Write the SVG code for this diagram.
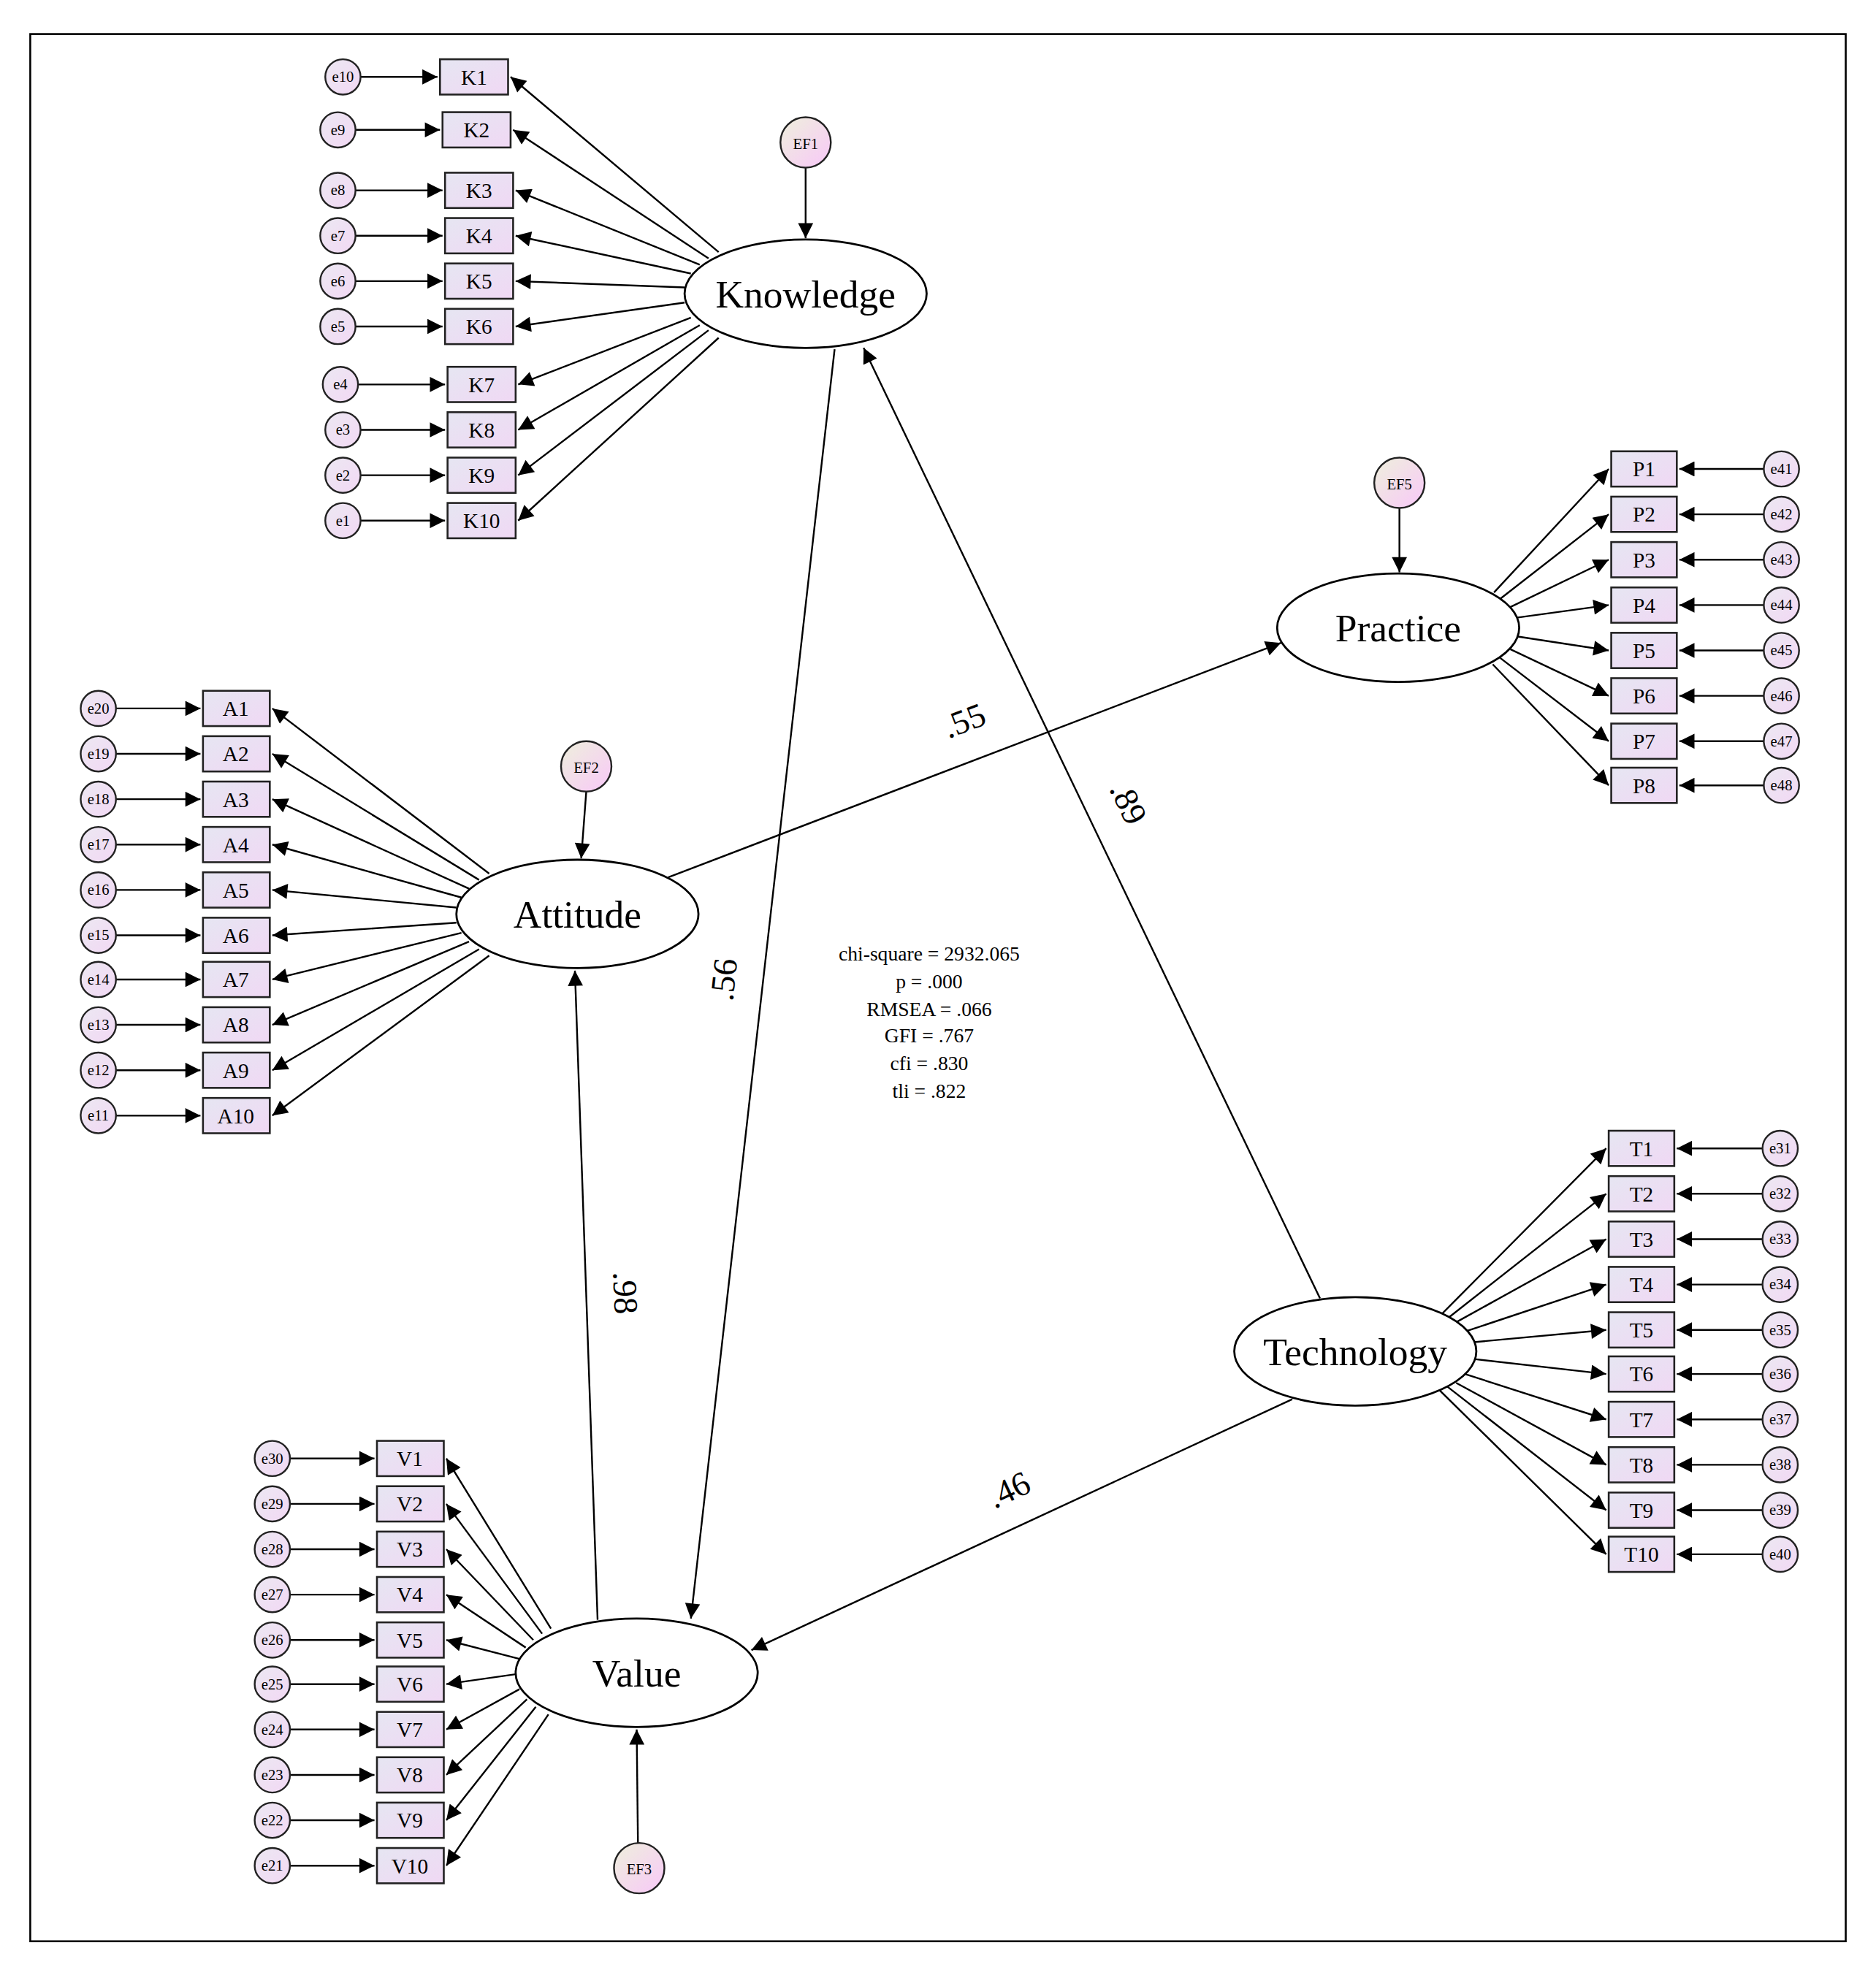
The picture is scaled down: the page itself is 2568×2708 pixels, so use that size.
<svg xmlns="http://www.w3.org/2000/svg" width="2568" height="2708" viewBox="0 0 2568 2708">
<defs>
<linearGradient id="gb" x1="0" y1="0" x2="1" y2="1"><stop offset="0" stop-color="#e6e6f2"/><stop offset="1" stop-color="#f0d8f4"/></linearGradient>
<linearGradient id="ge" x1="0" y1="0" x2="1" y2="1"><stop offset="0" stop-color="#ece8f2"/><stop offset="1" stop-color="#f2d8f4"/></linearGradient>
<linearGradient id="gf" x1="0" y1="0" x2="1" y2="1"><stop offset="0" stop-color="#eef0dc"/><stop offset="1" stop-color="#f8c8f8"/></linearGradient>
<marker id="ar" viewBox="0 0 10 10" refX="10" refY="5" markerWidth="10" markerHeight="10" markerUnits="userSpaceOnUse" orient="auto"><path d="M0,0 L10,5 L0,10 z" fill="#000"/></marker>
<marker id="al" viewBox="0 0 10 10" refX="10" refY="5" markerWidth="16" markerHeight="12" markerUnits="userSpaceOnUse" orient="auto"><path d="M0,0 L10,5 L0,10 z" fill="#000"/></marker>
</defs>
<style>
.l{stroke:#000;stroke-width:1.4;fill:none;marker-end:url(#al)}
.bx{fill:url(#gb);stroke:#222;stroke-width:1.5}
.ec{fill:url(#ge);stroke:#222;stroke-width:1.4}
.ef{fill:url(#gf);stroke:#222;stroke-width:1.4}
.ov{fill:#fff;stroke:#000;stroke-width:1.6}
text{font-family:"Liberation Serif","Times New Roman",serif;fill:#000;text-anchor:middle}
.bt{font-size:17px}
.et{font-size:12px}
.nt{font-size:31px}
.pl{font-size:27px}
.ft{font-size:16px}
</style>
<rect x="0" y="0" width="2568" height="2708" fill="#fff"/>
<g transform="scale(1.7258)">
<rect x="24" y="27" width="1440" height="1513" fill="none" stroke="#000" stroke-width="1.5"/>

<g id="connectors">
<!-- Knowledge indicators -->
<line class="l" x1="570" y1="200" x2="405" y2="61"/>
<line class="l" x1="562" y1="205" x2="407" y2="103"/>
<line class="l" x1="555" y1="210" x2="409" y2="151"/>
<line class="l" x1="548" y1="217" x2="409" y2="187"/>
<line class="l" x1="543" y1="228" x2="409" y2="223"/>
<line class="l" x1="543" y1="240" x2="409" y2="259"/>
<line class="l" x1="548" y1="252" x2="411" y2="305"/>
<line class="l" x1="555" y1="258" x2="411" y2="341"/>
<line class="l" x1="562" y1="262" x2="411" y2="377"/>
<line class="l" x1="570" y1="268" x2="411" y2="413"/>
<line class="l" x1="286" y1="61" x2="347" y2="61"/>
<line class="l" x1="282" y1="103" x2="349" y2="103"/>
<line class="l" x1="282" y1="151" x2="351" y2="151"/>
<line class="l" x1="282" y1="187" x2="351" y2="187"/>
<line class="l" x1="282" y1="223" x2="351" y2="223"/>
<line class="l" x1="282" y1="259" x2="351" y2="259"/>
<line class="l" x1="284" y1="305" x2="353" y2="305"/>
<line class="l" x1="286" y1="341" x2="353" y2="341"/>
<line class="l" x1="286" y1="377" x2="353" y2="377"/>
<line class="l" x1="286" y1="413" x2="353" y2="413"/>
<line class="l" x1="639" y1="133" x2="639" y2="189"/>
<!-- Practice indicators -->
<line class="l" x1="1185" y1="470" x2="1276" y2="372"/>
<line class="l" x1="1190" y1="475" x2="1276" y2="408"/>
<line class="l" x1="1197" y1="482" x2="1276" y2="444"/>
<line class="l" x1="1203" y1="490" x2="1276" y2="480"/>
<line class="l" x1="1204" y1="505" x2="1276" y2="516"/>
<line class="l" x1="1198" y1="515" x2="1276" y2="552"/>
<line class="l" x1="1190" y1="522" x2="1276" y2="588"/>
<line class="l" x1="1184" y1="527" x2="1276" y2="623"/>
<line class="l" x1="1399" y1="372" x2="1332" y2="372"/>
<line class="l" x1="1399" y1="408" x2="1332" y2="408"/>
<line class="l" x1="1399" y1="444" x2="1332" y2="444"/>
<line class="l" x1="1399" y1="480" x2="1332" y2="480"/>
<line class="l" x1="1399" y1="516" x2="1332" y2="516"/>
<line class="l" x1="1399" y1="552" x2="1332" y2="552"/>
<line class="l" x1="1399" y1="588" x2="1332" y2="588"/>
<line class="l" x1="1399" y1="623" x2="1332" y2="623"/>
<line class="l" x1="1110" y1="403" x2="1110" y2="454"/>
<!-- Attitude indicators -->
<line class="l" x1="388" y1="693" x2="216" y2="562"/>
<line class="l" x1="380" y1="698" x2="216" y2="598"/>
<line class="l" x1="372" y1="705" x2="216" y2="634"/>
<line class="l" x1="366" y1="712" x2="216" y2="670"/>
<line class="l" x1="362" y1="720" x2="216" y2="706"/>
<line class="l" x1="362" y1="732" x2="216" y2="742"/>
<line class="l" x1="366" y1="740" x2="216" y2="777"/>
<line class="l" x1="372" y1="747" x2="216" y2="813"/>
<line class="l" x1="380" y1="753" x2="216" y2="849"/>
<line class="l" x1="388" y1="758" x2="216" y2="885"/>
<line class="l" x1="92" y1="562" x2="159" y2="562"/>
<line class="l" x1="92" y1="598" x2="159" y2="598"/>
<line class="l" x1="92" y1="634" x2="159" y2="634"/>
<line class="l" x1="92" y1="670" x2="159" y2="670"/>
<line class="l" x1="92" y1="706" x2="159" y2="706"/>
<line class="l" x1="92" y1="742" x2="159" y2="742"/>
<line class="l" x1="92" y1="777" x2="159" y2="777"/>
<line class="l" x1="92" y1="813" x2="159" y2="813"/>
<line class="l" x1="92" y1="849" x2="159" y2="849"/>
<line class="l" x1="92" y1="885" x2="159" y2="885"/>
<line class="l" x1="465" y1="628" x2="461" y2="681"/>
<!-- Value indicators -->
<line class="l" x1="437" y1="1292" x2="354" y2="1157"/>
<line class="l" x1="430" y1="1296" x2="354" y2="1193"/>
<line class="l" x1="423" y1="1301" x2="354" y2="1229"/>
<line class="l" x1="417" y1="1307" x2="354" y2="1265"/>
<line class="l" x1="412" y1="1316" x2="354" y2="1301"/>
<line class="l" x1="410" y1="1328" x2="354" y2="1336"/>
<line class="l" x1="412" y1="1340" x2="354" y2="1372"/>
<line class="l" x1="418" y1="1348" x2="354" y2="1408"/>
<line class="l" x1="425" y1="1354" x2="354" y2="1444"/>
<line class="l" x1="435" y1="1360" x2="354" y2="1480"/>
<line class="l" x1="230" y1="1157" x2="297" y2="1157"/>
<line class="l" x1="230" y1="1193" x2="297" y2="1193"/>
<line class="l" x1="230" y1="1229" x2="297" y2="1229"/>
<line class="l" x1="230" y1="1265" x2="297" y2="1265"/>
<line class="l" x1="230" y1="1301" x2="297" y2="1301"/>
<line class="l" x1="230" y1="1336" x2="297" y2="1336"/>
<line class="l" x1="230" y1="1372" x2="297" y2="1372"/>
<line class="l" x1="230" y1="1408" x2="297" y2="1408"/>
<line class="l" x1="230" y1="1444" x2="297" y2="1444"/>
<line class="l" x1="230" y1="1480" x2="297" y2="1480"/>
<line class="l" x1="506" y1="1462" x2="505" y2="1372"/>
<!-- Technology indicators -->
<line class="l" x1="1143" y1="1043" x2="1274" y2="911"/>
<line class="l" x1="1148" y1="1046" x2="1274" y2="947"/>
<line class="l" x1="1153" y1="1050" x2="1274" y2="983"/>
<line class="l" x1="1160" y1="1057" x2="1274" y2="1019"/>
<line class="l" x1="1166" y1="1065" x2="1274" y2="1055"/>
<line class="l" x1="1168" y1="1078" x2="1274" y2="1090"/>
<line class="l" x1="1162" y1="1090" x2="1274" y2="1126"/>
<line class="l" x1="1155" y1="1097" x2="1274" y2="1162"/>
<line class="l" x1="1148" y1="1100" x2="1274" y2="1198"/>
<line class="l" x1="1142" y1="1103" x2="1274" y2="1233"/>
<line class="l" x1="1398" y1="911" x2="1330" y2="911"/>
<line class="l" x1="1398" y1="947" x2="1330" y2="947"/>
<line class="l" x1="1398" y1="983" x2="1330" y2="983"/>
<line class="l" x1="1398" y1="1019" x2="1330" y2="1019"/>
<line class="l" x1="1398" y1="1055" x2="1330" y2="1055"/>
<line class="l" x1="1398" y1="1090" x2="1330" y2="1090"/>
<line class="l" x1="1398" y1="1126" x2="1330" y2="1126"/>
<line class="l" x1="1398" y1="1162" x2="1330" y2="1162"/>
<line class="l" x1="1398" y1="1198" x2="1330" y2="1198"/>
<line class="l" x1="1398" y1="1233" x2="1330" y2="1233"/>
<!-- structural -->
<line class="l" x1="530" y1="696" x2="1016" y2="510"/>
<line class="l" x1="662" y1="277" x2="548" y2="1284"/>
<line class="l" x1="1047" y1="1030" x2="685" y2="276"/>
<line class="l" x1="474" y1="1285" x2="456" y2="770"/>
<line class="l" x1="1025" y1="1110" x2="596" y2="1309"/>
<text class="pl" transform="translate(768,580) rotate(-21)">.55</text>
<text class="pl" transform="translate(583,778) rotate(-84)">.56</text>
<text class="pl" transform="translate(887,641) rotate(64)">.89</text>
<text class="pl" transform="translate(487,1026) rotate(88)">.98</text>
<text class="pl" transform="translate(804,1190) rotate(-25)">.46</text>
</g>

<g id="Knowledge"><ellipse class="ov" cx="639" cy="233" rx="96" ry="43"/><text class="nt" x="639" y="244">Knowledge</text></g>
<g id="Practice"><ellipse class="ov" cx="1109" cy="498" rx="96" ry="43"/><text class="nt" x="1109" y="509">Practice</text></g>
<g id="Attitude"><ellipse class="ov" cx="458" cy="725" rx="96" ry="43"/><text class="nt" x="458" y="736">Attitude</text></g>
<g id="Value"><ellipse class="ov" cx="505" cy="1327" rx="96" ry="43"/><text class="nt" x="505" y="1338">Value</text></g>
<g id="Technology"><ellipse class="ov" cx="1075" cy="1072" rx="96" ry="43"/><text class="nt" x="1075" y="1083">Technology</text></g>

<g id="EF1"><circle class="ef" cx="639" cy="113" r="20"/><text class="et" x="639" y="118">EF1</text></g>
<g id="EF2"><circle class="ef" cx="465" cy="608" r="20"/><text class="et" x="465" y="613">EF2</text></g>
<g id="EF3"><circle class="ef" cx="507" cy="1482" r="20"/><text class="et" x="507" y="1487">EF3</text></g>
<g id="EF5"><circle class="ef" cx="1110" cy="383" r="20"/><text class="et" x="1110" y="388">EF5</text></g>

<g id="K1"><rect class="bx" x="349" y="47" width="54" height="28"/><text class="bt" x="376" y="67">K1</text></g>
<g id="K2"><rect class="bx" x="351" y="89" width="54" height="28"/><text class="bt" x="378" y="109">K2</text></g>
<g id="K3"><rect class="bx" x="353" y="137" width="54" height="28"/><text class="bt" x="380" y="157">K3</text></g>
<g id="K4"><rect class="bx" x="353" y="173" width="54" height="28"/><text class="bt" x="380" y="193">K4</text></g>
<g id="K5"><rect class="bx" x="353" y="209" width="54" height="28"/><text class="bt" x="380" y="229">K5</text></g>
<g id="K6"><rect class="bx" x="353" y="245" width="54" height="28"/><text class="bt" x="380" y="265">K6</text></g>
<g id="K7"><rect class="bx" x="355" y="291" width="54" height="28"/><text class="bt" x="382" y="311">K7</text></g>
<g id="K8"><rect class="bx" x="355" y="327" width="54" height="28"/><text class="bt" x="382" y="347">K8</text></g>
<g id="K9"><rect class="bx" x="355" y="363" width="54" height="28"/><text class="bt" x="382" y="383">K9</text></g>
<g id="K10"><rect class="bx" x="355" y="399" width="54" height="28"/><text class="bt" x="382" y="419">K10</text></g>

<g id="e10"><circle class="ec" cx="272" cy="61" r="14"/><text class="et" x="272" y="65">e10</text></g>
<g id="e9"><circle class="ec" cx="268" cy="103" r="14"/><text class="et" x="268" y="107">e9</text></g>
<g id="e8"><circle class="ec" cx="268" cy="151" r="14"/><text class="et" x="268" y="155">e8</text></g>
<g id="e7"><circle class="ec" cx="268" cy="187" r="14"/><text class="et" x="268" y="191">e7</text></g>
<g id="e6"><circle class="ec" cx="268" cy="223" r="14"/><text class="et" x="268" y="227">e6</text></g>
<g id="e5"><circle class="ec" cx="268" cy="259" r="14"/><text class="et" x="268" y="263">e5</text></g>
<g id="e4"><circle class="ec" cx="270" cy="305" r="14"/><text class="et" x="270" y="309">e4</text></g>
<g id="e3"><circle class="ec" cx="272" cy="341" r="14"/><text class="et" x="272" y="345">e3</text></g>
<g id="e2"><circle class="ec" cx="272" cy="377" r="14"/><text class="et" x="272" y="381">e2</text></g>
<g id="e1"><circle class="ec" cx="272" cy="413" r="14"/><text class="et" x="272" y="417">e1</text></g>

<g id="P1"><rect class="bx" x="1278" y="358" width="52" height="28"/><text class="bt" x="1304" y="378">P1</text></g>
<g id="P2"><rect class="bx" x="1278" y="394" width="52" height="28"/><text class="bt" x="1304" y="414">P2</text></g>
<g id="P3"><rect class="bx" x="1278" y="430" width="52" height="28"/><text class="bt" x="1304" y="450">P3</text></g>
<g id="P4"><rect class="bx" x="1278" y="466" width="52" height="28"/><text class="bt" x="1304" y="486">P4</text></g>
<g id="P5"><rect class="bx" x="1278" y="502" width="52" height="28"/><text class="bt" x="1304" y="522">P5</text></g>
<g id="P6"><rect class="bx" x="1278" y="538" width="52" height="28"/><text class="bt" x="1304" y="558">P6</text></g>
<g id="P7"><rect class="bx" x="1278" y="574" width="52" height="28"/><text class="bt" x="1304" y="594">P7</text></g>
<g id="P8"><rect class="bx" x="1278" y="609" width="52" height="28"/><text class="bt" x="1304" y="629">P8</text></g>
<g id="e41"><circle class="ec" cx="1413" cy="372" r="14"/><text class="et" x="1413" y="376">e41</text></g>
<g id="e42"><circle class="ec" cx="1413" cy="408" r="14"/><text class="et" x="1413" y="412">e42</text></g>
<g id="e43"><circle class="ec" cx="1413" cy="444" r="14"/><text class="et" x="1413" y="448">e43</text></g>
<g id="e44"><circle class="ec" cx="1413" cy="480" r="14"/><text class="et" x="1413" y="484">e44</text></g>
<g id="e45"><circle class="ec" cx="1413" cy="516" r="14"/><text class="et" x="1413" y="520">e45</text></g>
<g id="e46"><circle class="ec" cx="1413" cy="552" r="14"/><text class="et" x="1413" y="556">e46</text></g>
<g id="e47"><circle class="ec" cx="1413" cy="588" r="14"/><text class="et" x="1413" y="592">e47</text></g>
<g id="e48"><circle class="ec" cx="1413" cy="623" r="14"/><text class="et" x="1413" y="627">e48</text></g>

<g id="A1"><rect class="bx" x="161" y="548" width="53" height="28"/><text class="bt" x="187" y="568">A1</text></g>
<g id="A2"><rect class="bx" x="161" y="584" width="53" height="28"/><text class="bt" x="187" y="604">A2</text></g>
<g id="A3"><rect class="bx" x="161" y="620" width="53" height="28"/><text class="bt" x="187" y="640">A3</text></g>
<g id="A4"><rect class="bx" x="161" y="656" width="53" height="28"/><text class="bt" x="187" y="676">A4</text></g>
<g id="A5"><rect class="bx" x="161" y="692" width="53" height="28"/><text class="bt" x="187" y="712">A5</text></g>
<g id="A6"><rect class="bx" x="161" y="728" width="53" height="28"/><text class="bt" x="187" y="748">A6</text></g>
<g id="A7"><rect class="bx" x="161" y="763" width="53" height="28"/><text class="bt" x="187" y="783">A7</text></g>
<g id="A8"><rect class="bx" x="161" y="799" width="53" height="28"/><text class="bt" x="187" y="819">A8</text></g>
<g id="A9"><rect class="bx" x="161" y="835" width="53" height="28"/><text class="bt" x="187" y="855">A9</text></g>
<g id="A10"><rect class="bx" x="161" y="871" width="53" height="28"/><text class="bt" x="187" y="891">A10</text></g>
<g id="e20"><circle class="ec" cx="78" cy="562" r="14"/><text class="et" x="78" y="566">e20</text></g>
<g id="e19"><circle class="ec" cx="78" cy="598" r="14"/><text class="et" x="78" y="602">e19</text></g>
<g id="e18"><circle class="ec" cx="78" cy="634" r="14"/><text class="et" x="78" y="638">e18</text></g>
<g id="e17"><circle class="ec" cx="78" cy="670" r="14"/><text class="et" x="78" y="674">e17</text></g>
<g id="e16"><circle class="ec" cx="78" cy="706" r="14"/><text class="et" x="78" y="710">e16</text></g>
<g id="e15"><circle class="ec" cx="78" cy="742" r="14"/><text class="et" x="78" y="746">e15</text></g>
<g id="e14"><circle class="ec" cx="78" cy="777" r="14"/><text class="et" x="78" y="781">e14</text></g>
<g id="e13"><circle class="ec" cx="78" cy="813" r="14"/><text class="et" x="78" y="817">e13</text></g>
<g id="e12"><circle class="ec" cx="78" cy="849" r="14"/><text class="et" x="78" y="853">e12</text></g>
<g id="e11"><circle class="ec" cx="78" cy="885" r="14"/><text class="et" x="78" y="889">e11</text></g>

<g id="V1"><rect class="bx" x="299" y="1143" width="53" height="28"/><text class="bt" x="325" y="1163">V1</text></g>
<g id="V2"><rect class="bx" x="299" y="1179" width="53" height="28"/><text class="bt" x="325" y="1199">V2</text></g>
<g id="V3"><rect class="bx" x="299" y="1215" width="53" height="28"/><text class="bt" x="325" y="1235">V3</text></g>
<g id="V4"><rect class="bx" x="299" y="1251" width="53" height="28"/><text class="bt" x="325" y="1271">V4</text></g>
<g id="V5"><rect class="bx" x="299" y="1287" width="53" height="28"/><text class="bt" x="325" y="1307">V5</text></g>
<g id="V6"><rect class="bx" x="299" y="1322" width="53" height="28"/><text class="bt" x="325" y="1342">V6</text></g>
<g id="V7"><rect class="bx" x="299" y="1358" width="53" height="28"/><text class="bt" x="325" y="1378">V7</text></g>
<g id="V8"><rect class="bx" x="299" y="1394" width="53" height="28"/><text class="bt" x="325" y="1414">V8</text></g>
<g id="V9"><rect class="bx" x="299" y="1430" width="53" height="28"/><text class="bt" x="325" y="1450">V9</text></g>
<g id="V10"><rect class="bx" x="299" y="1466" width="53" height="28"/><text class="bt" x="325" y="1486">V10</text></g>
<g id="e30"><circle class="ec" cx="216" cy="1157" r="14"/><text class="et" x="216" y="1161">e30</text></g>
<g id="e29"><circle class="ec" cx="216" cy="1193" r="14"/><text class="et" x="216" y="1197">e29</text></g>
<g id="e28"><circle class="ec" cx="216" cy="1229" r="14"/><text class="et" x="216" y="1233">e28</text></g>
<g id="e27"><circle class="ec" cx="216" cy="1265" r="14"/><text class="et" x="216" y="1269">e27</text></g>
<g id="e26"><circle class="ec" cx="216" cy="1301" r="14"/><text class="et" x="216" y="1305">e26</text></g>
<g id="e25"><circle class="ec" cx="216" cy="1336" r="14"/><text class="et" x="216" y="1340">e25</text></g>
<g id="e24"><circle class="ec" cx="216" cy="1372" r="14"/><text class="et" x="216" y="1376">e24</text></g>
<g id="e23"><circle class="ec" cx="216" cy="1408" r="14"/><text class="et" x="216" y="1412">e23</text></g>
<g id="e22"><circle class="ec" cx="216" cy="1444" r="14"/><text class="et" x="216" y="1448">e22</text></g>
<g id="e21"><circle class="ec" cx="216" cy="1480" r="14"/><text class="et" x="216" y="1484">e21</text></g>

<g id="T1"><rect class="bx" x="1276" y="897" width="52" height="28"/><text class="bt" x="1302" y="917">T1</text></g>
<g id="T2"><rect class="bx" x="1276" y="933" width="52" height="28"/><text class="bt" x="1302" y="953">T2</text></g>
<g id="T3"><rect class="bx" x="1276" y="969" width="52" height="28"/><text class="bt" x="1302" y="989">T3</text></g>
<g id="T4"><rect class="bx" x="1276" y="1005" width="52" height="28"/><text class="bt" x="1302" y="1025">T4</text></g>
<g id="T5"><rect class="bx" x="1276" y="1041" width="52" height="28"/><text class="bt" x="1302" y="1061">T5</text></g>
<g id="T6"><rect class="bx" x="1276" y="1076" width="52" height="28"/><text class="bt" x="1302" y="1096">T6</text></g>
<g id="T7"><rect class="bx" x="1276" y="1112" width="52" height="28"/><text class="bt" x="1302" y="1132">T7</text></g>
<g id="T8"><rect class="bx" x="1276" y="1148" width="52" height="28"/><text class="bt" x="1302" y="1168">T8</text></g>
<g id="T9"><rect class="bx" x="1276" y="1184" width="52" height="28"/><text class="bt" x="1302" y="1204">T9</text></g>
<g id="T10"><rect class="bx" x="1276" y="1219" width="52" height="28"/><text class="bt" x="1302" y="1239">T10</text></g>
<g id="e31"><circle class="ec" cx="1412" cy="911" r="14"/><text class="et" x="1412" y="915">e31</text></g>
<g id="e32"><circle class="ec" cx="1412" cy="947" r="14"/><text class="et" x="1412" y="951">e32</text></g>
<g id="e33"><circle class="ec" cx="1412" cy="983" r="14"/><text class="et" x="1412" y="987">e33</text></g>
<g id="e34"><circle class="ec" cx="1412" cy="1019" r="14"/><text class="et" x="1412" y="1023">e34</text></g>
<g id="e35"><circle class="ec" cx="1412" cy="1055" r="14"/><text class="et" x="1412" y="1059">e35</text></g>
<g id="e36"><circle class="ec" cx="1412" cy="1090" r="14"/><text class="et" x="1412" y="1094">e36</text></g>
<g id="e37"><circle class="ec" cx="1412" cy="1126" r="14"/><text class="et" x="1412" y="1130">e37</text></g>
<g id="e38"><circle class="ec" cx="1412" cy="1162" r="14"/><text class="et" x="1412" y="1166">e38</text></g>
<g id="e39"><circle class="ec" cx="1412" cy="1198" r="14"/><text class="et" x="1412" y="1202">e39</text></g>
<g id="e40"><circle class="ec" cx="1412" cy="1233" r="14"/><text class="et" x="1412" y="1237">e40</text></g>

<g id="fit">
<text class="ft" x="737" y="762">chi-square = 2932.065</text>
<text class="ft" x="737" y="784">p = .000</text>
<text class="ft" x="737" y="806">RMSEA = .066</text>
<text class="ft" x="737" y="827">GFI = .767</text>
<text class="ft" x="737" y="849">cfi = .830</text>
<text class="ft" x="737" y="871">tli = .822</text>
</g>
</g>
</svg>
